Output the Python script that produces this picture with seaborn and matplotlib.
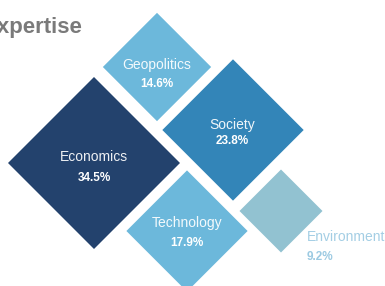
import numpy as np
import pandas as pd
import matplotlib.pyplot as plt
import seaborn as sns

sns.set_style("white")
plt.rcParams["font.family"] = ["Liberation Sans", "DejaVu Sans"]

# ---------------- DATA ----------------
topics = ["Economics", "Geopolitics", "Society", "Technology", "Environment"]
shares = [34.5, 14.6, 23.8, 17.9, 9.2]

# ---------------- LAYOUT (pixel space, y down) ----------------
center_x = [94, 157, 233, 187, 281]
center_y = [163, 67, 130, 231, 211]
colors = ["#23426D", "#6CB8DB", "#3385B8", "#6CB8DB", "#92C2D1"]
# label / pct positions
label_x = [94, 157, 232, 187, 307]
label_y = [157, 65, 125, 223, 237]
pct_y = [178, 84, 141, 243, 257]
label_ha = ["center", "center", "center", "center", "left"]
text_colors = ["white", "white", "white", "white", "#9CCAE2"]

# diamond half-diagonal (px) at min / max share -> marker area in pt^2
DPI = 100
px_per_pt = DPI / 72
def marker_area(half_px):
    ms = half_px / (np.sqrt(0.5) * px_per_pt)
    return ms ** 2

df = pd.DataFrame({"topic": topics, "share": shares, "cx": center_x, "cy": center_y})

fig = plt.figure(figsize=(3.85, 2.86), dpi=DPI)
ax = fig.add_axes([0, 0, 1, 1])
sns.scatterplot(data=df, x="cx", y="cy", hue="topic", palette=dict(zip(topics, colors)),
                size="share", sizes=(marker_area(41.5), marker_area(86)),
                marker="D", linewidth=0, legend=False, ax=ax)
ax.set_xlim(0, 385)
ax.set_ylim(286, 0)
ax.axis("off")

for i, t in enumerate(topics):
    ax.text(label_x[i], label_y[i], t, ha=label_ha[i], va="center", fontsize=10,
            color=text_colors[i], alpha=0.92)
    ax.text(label_x[i], pct_y[i], f"{shares[i]}%", ha=label_ha[i], va="center", fontsize=8.5,
            fontweight="bold", color=text_colors[i])

ax.text(82, 33.5, "Expertise", ha="right", va="baseline", fontsize=16, fontweight="bold",
        color="#7A7A7A")

fig.savefig("out.png", dpi=DPI)
